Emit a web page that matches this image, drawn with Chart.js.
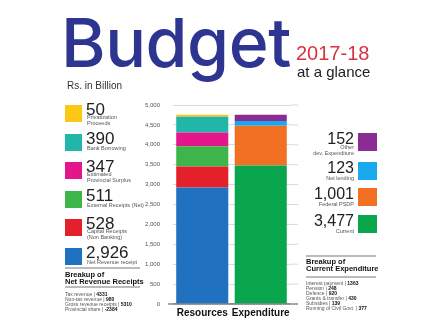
<!DOCTYPE html>
<html>
<head>
<meta charset="utf-8">
<script src="https://cdn.jsdelivr.net/npm/chart.js@4.4.1/dist/chart.umd.min.js"></script>
<style>
html, body { margin: 0; padding: 0; background: #fff; }
#wrap { position: relative; width: 441px; height: 330px; }
</style>
</head>
<body>
<div id="wrap"><canvas id="budgetChart" width="441" height="330"></canvas></div>
<script>
// Rs. in Billion
const categories = ['Resources', 'Expenditure'];

// resources, stacked bottom -> top
const resourceLabels = [
    ['Net Revenue receipt'],
    ['Capital Receipts', '(Non Banking)'],
    ['External Receipts (Net)'],
    ['Estimated', 'Provincial Surplus'],
    ['Bank Borrowing'],
    ['Privatization', 'Proceeds']
];
const resourceValues = [2926, 528, 511, 347, 390, 50];
const resourceColors = ['#2171c1', '#e4202b', '#3db54a', '#e5168c', '#22b5a9', '#fdc716'];

// expenditure, stacked bottom -> top
const expenditureLabels = [
    ['Current'],
    ['Federal PSDP'],
    ['Net lending'],
    ['Other', 'dev. Expenditure']
];
const expenditureValues = [3477, 1001, 123, 152];
const expenditureColors = ['#0aa64e', '#f27024', '#18a9ef', '#8b2b94'];

const yMax = 5000;
const yStep = 500;

const revenueBreakup = [
    ['Tax revenue', '4331'],
    ['Non-tax revenue', '980'],
    ['Gross revenue receipts', '5310'],
    ['Provincial share', '-2384']
];
const currentBreakup = [
    ['Interest payment', '1363'],
    ['Pension', '248'],
    ['Defence', '920'],
    ['Grants & transfer', '430'],
    ['Subsidies', '139'],
    ['Running of Civil Govt.', '377']
];

const SANS = '"Liberation Sans", Arial, sans-serif';
const fmt = v => v.toLocaleString('en-US');

const datasets = [];
resourceValues.forEach((v, i) => {
    datasets.push({
        label: resourceLabels[i].join(' '),
        data: [v, null],
        backgroundColor: resourceColors[i]
    });
});
expenditureValues.forEach((v, i) => {
    datasets.push({
        label: expenditureLabels[i].join(' '),
        data: [null, v],
        backgroundColor: expenditureColors[i]
    });
});

function text(ctx, s, x, y, font, color, align) {
    ctx.font = font;
    ctx.fillStyle = color;
    ctx.textAlign = align || 'left';
    ctx.textBaseline = 'alphabetic';
    ctx.fillText(s, x, y);
}

function rule(ctx, x1, x2, y) {
    ctx.strokeStyle = '#555';
    ctx.lineWidth = 0.8;
    ctx.beginPath();
    ctx.moveTo(x1, y);
    ctx.lineTo(x2, y);
    ctx.stroke();
}

// "label | value" lines, value in bold
function breakupList(ctx, rows, x, y0, gap) {
    rows.forEach((r, i) => {
        const y = y0 + i * gap;
        const head = r[0] + ' | ';
        ctx.font = '5px ' + SANS;
        const w = ctx.measureText(head).width;
        text(ctx, head, x, y, '5px ' + SANS, '#555');
        text(ctx, r[1], x + w, y, 'bold 5px ' + SANS, '#111');
    });
}

// grid lines run a little past the bars on the right
const gridExtend = {
    id: 'gridExtend',
    beforeDatasetsDraw(chart) {
        const { ctx, chartArea, scales } = chart;
        ctx.save();
        scales.y.ticks.forEach(t => {
            const y = scales.y.getPixelForValue(t.value);
            ctx.strokeStyle = t.value === 0 ? '#8a8a8a' : '#cfcfcf';
            ctx.lineWidth = t.value === 0 ? 1.4 : 0.8;
            ctx.beginPath();
            ctx.moveTo(t.value === 0 ? chartArea.left - 5 : chartArea.right, y);
            ctx.lineTo(chartArea.right + 8, y);
            ctx.stroke();
        });
        ctx.restore();
    }
};

const annotations = {
    id: 'annotations',
    afterDraw(chart) {
        const ctx = chart.ctx;
        ctx.save();

        // heading
        ctx.letterSpacing = '-0.5px';
        text(ctx, 'Budget', 61, 67, '500 68px Inter, ' + SANS, '#2d3590');
        ctx.letterSpacing = '0px';
        text(ctx, '2017-18', 296, 60, '20px ' + SANS, '#d9323f');
        text(ctx, 'at a glance', 297, 77, '15px ' + SANS, '#222');
        text(ctx, 'Rs. in Billion', 67, 89, '10px ' + SANS, '#333');

        // resources key, top of the stack first
        for (let k = 0; k < resourceValues.length; k++) {
            const i = resourceValues.length - 1 - k;
            const top = Math.round(105 + k * 28.6);
            ctx.fillStyle = resourceColors[i];
            ctx.fillRect(65, top, 17, 17);
            text(ctx, fmt(resourceValues[i]), 86, top + 9.5, '17px ' + SANS, '#222');
            const lines = resourceLabels[i];
            const y0 = lines.length > 1 ? top + 13.5 : top + 16;
            lines.forEach((s, j) => text(ctx, s, 87, y0 + j * 6, '5.5px ' + SANS, '#555'));
        }

        // expenditure key
        const rightTops = [133, 162, 188, 215];
        for (let k = 0; k < expenditureValues.length; k++) {
            const i = expenditureValues.length - 1 - k;
            const top = rightTops[k];
            ctx.fillStyle = expenditureColors[i];
            ctx.fillRect(358, top, 19, 18);
            text(ctx, fmt(expenditureValues[i]), 354, top + 11, '16px ' + SANS, '#222', 'right');
            const lines = expenditureLabels[i];
            const y0 = lines.length > 1 ? top + 15.5 : top + 17.5;
            lines.forEach((s, j) => text(ctx, s, 354, y0 + j * 6, '5.5px ' + SANS, '#555', 'right'));
        }

        // breakup of net revenue receipts
        rule(ctx, 65, 140, 268);
        text(ctx, 'Breakup of', 65, 277, 'bold 7.5px ' + SANS, '#111');
        text(ctx, 'Net Revenue Receipts', 65, 284, 'bold 7.5px ' + SANS, '#111');
        rule(ctx, 65, 140, 287);
        breakupList(ctx, revenueBreakup, 65, 296, 5);

        // breakup of current expenditure
        rule(ctx, 306, 376, 256);
        text(ctx, 'Breakup of', 306, 264, 'bold 7.5px ' + SANS, '#111');
        text(ctx, 'Current Expenditure', 306, 271, 'bold 7.5px ' + SANS, '#111');
        rule(ctx, 306, 376, 277);
        breakupList(ctx, currentBreakup, 306, 285, 5);

        ctx.restore();
    }
};

const chartCtx = document.getElementById('budgetChart').getContext('2d');
new Chart(chartCtx, {
    type: 'bar',
    data: {
        labels: categories,
        datasets: datasets
    },
    options: {
        responsive: false,
        animation: false,
        devicePixelRatio: 1,
        datasets: {
            bar: {
                barPercentage: 0.89,
                categoryPercentage: 1,
                borderWidth: 0
            }
        },
        layout: {
            padding: { left: 135, right: 151, top: 105, bottom: 9 }
        },
        plugins: {
            legend: { display: false },
            tooltip: { enabled: false }
        },
        scales: {
            x: {
                stacked: true,
                grid: { display: false, drawTicks: false },
                border: { display: false },
                afterFit: s => { s.height = 17; },
                ticks: {
                    padding: 3,
                    autoSkip: false,
                    maxRotation: 0,
                    minRotation: 0,
                    color: '#111',
                    font: { family: SANS, size: 10, weight: 'bold' }
                }
            },
            y: {
                stacked: true,
                min: 0,
                max: yMax,
                afterFit: s => { s.width = 38; },
                border: { display: false },
                grid: {
                    drawTicks: false,
                    color: c => c.tick.value === 0 ? '#8a8a8a' : '#cfcfcf',
                    lineWidth: c => c.tick.value === 0 ? 1.4 : 0.8
                },
                ticks: {
                    stepSize: yStep,
                    padding: 13,
                    color: '#555',
                    font: { family: SANS, size: 6 },
                    callback: v => fmt(v)
                }
            }
        }
    },
    plugins: [gridExtend, annotations]
});
</script>
</body>
</html>
